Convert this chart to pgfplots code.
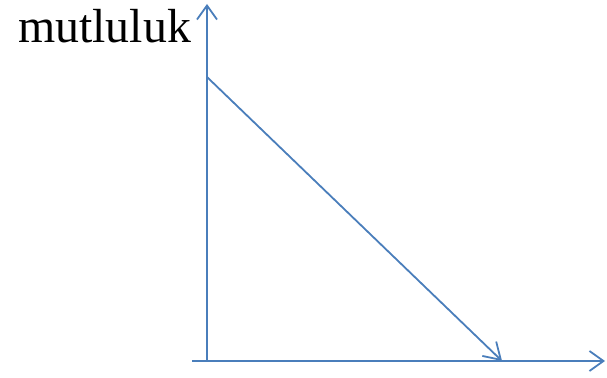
\documentclass[border=0pt]{standalone}
\usepackage{pgfplots}
\pgfplotsset{compat=1.18}
\usetikzlibrary{arrows.meta}
\usepackage{fontspec}
\setmainfont{Liberation Serif}
\definecolor{officeblue}{RGB}{74,126,187}
\begin{document}
\begin{tikzpicture}
\begin{axis}[
    scale only axis,
    width=607bp, height=378bp,
    xmin=0, xmax=607, ymin=0, ymax=378,
    hide axis, clip=false,
]
  % invisible frame to fix the picture size
  \path (axis cs:0,0) rectangle (axis cs:607,378);
  % axes
  \addplot[officeblue, line width=1.8bp, -{Straight Barb[length=14bp,width=20bp]}]
    coordinates {(192,17) (605,17)};
  \addplot[officeblue, line width=1.8bp, -{Straight Barb[length=14bp,width=20bp]}]
    coordinates {(207,17) (207,374)};
  % falling line
  \addplot[officeblue, line width=1.8bp, -{Straight Barb[length=16bp,width=20bp]}]
    coordinates {(207,301) (502,17)};
  \node[anchor=base west, inner sep=0pt, font=\fontsize{48}{52}\selectfont]
    at (axis cs:18,335) {mutluluk};
\end{axis}
\end{tikzpicture}
\end{document}
